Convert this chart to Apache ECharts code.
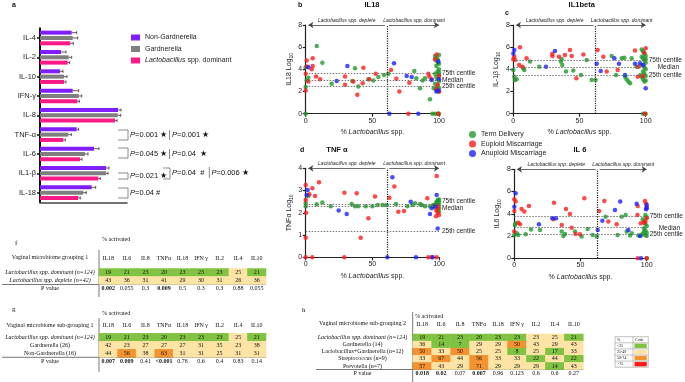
<!DOCTYPE html>
<html>
<head>
<meta charset="utf-8">
<title>Cytokines and vaginal microbiome</title>
<script src="https://cdn.jsdelivr.net/npm/echarts@6.0.0/dist/echarts.min.js"></script>
<style>
  html, body { margin: 0; padding: 0; background: #fff; }
  #main { width: 685px; height: 382px; }
</style>
</head>
<body>
<div id="main"></div>
<script>
// ---------- panel a : cytokine bars (bottom to top) ----------
var cytokines = ['IL-18', 'IL1-β', 'IL-6', 'TNF-α', 'IL-8', 'IFN-γ', 'IL-10', 'IL-2', 'IL-4'];
var nonGard   = [51.7, 66, 54, 36.7, 78, 32.7, 20, 21, 31.7];
var gard      = [43.3, 66, 45, 28.3, 77.7, 38.7, 24, 28.7, 32.7];
var lactoDom  = [38.3, 58.3, 40, 23.3, 75, 37.3, 24, 27.7, 30.3];
var nonGardErr = [4, 3, 5, 2, 3, 6, 3, 5, 5];
var gardErr    = [3, 2, 3, 3, 3, 3, 3, 3, 5];
var lactoErr   = [2, 2, 2, 2, 2, 2, 2, 2, 3];

// ---------- panels b-e : scatter, [% Lactobacillus, log10 level] ----------
var il18Term = [[0,0],[0,4.2],[0.75,3.0],[0,2.4],[2,3.25],[8.3,6.1],[12.5,4.6],[19.5,2.7],[37,4.1],[35,2.95],[39.5,2.45],[47,3.1],[50.75,3.0],[54.5,3.3],[58.75,3.5],[62,3.6],[81.5,3.85],[83,3.2],[85.75,2.3],[87.75,3.0],[89.5,3.2],[93.25,1.3],[97.5,4.85],[97,5.2],[98,5.0],[99,4.9],[100,5.3],[99,4.6],[98,4.3],[100,4.0],[99,3.8],[97,3.6],[100,3.5],[98,3.3],[99,3.1],[100,2.9],[97,2.7],[99,2.5],[100,2.3],[98,2.2],[99,2.1],[100,2.0],[96,2.3],[100,3.7],[100,4.5],[99,0],[97,0],[95,0],[100,0]];
var il18Euploid = [[0.75,4.8],[0.75,4.25],[0,3.6],[0,2.1],[2,2.9],[4.5,4.0],[5.25,5.0],[5.25,4.3],[7.75,3.35],[10.75,3.1],[29.5,3.35],[29.5,2.6],[35.75,2.9],[38.75,1.7],[43.25,4.15],[42.75,2.75],[47.75,3.1],[52.5,3.6],[64,3.95],[68,3.15],[70.25,2.0],[77.75,2.8],[92,3.6],[92.75,3.35],[94.5,3.1],[98.25,5.35],[97,4.9],[100,3.4],[99,2.6],[98,2.2],[100,2.0],[77,0],[99.5,0]];
var il18Aneuploid = [[2,4.2],[23.25,2.95],[31.25,4.3],[66.25,4.55],[75.75,3.4],[79.5,3.3],[94.5,3.05],[99.5,4.7],[99.5,2.1],[98,2.0],[100,3.1],[62.75,0],[84.5,0]];
var il18Centiles = [3.64, 3.0, 2.44];

var il1bTerm = [[0,3.94],[0.75,3.34],[1.25,3.04],[2.5,3.1],[7.5,4.1],[8.3,3.94],[12.6,4.7],[19.6,4.24],[36.5,4.93],[36,4.7],[37,4.4],[39.8,3.8],[45.3,3.9],[51.1,3.5],[55.4,4.84],[59.2,3.04],[62.2,3.04],[74.3,5.2],[77.6,3.5],[81.9,5.0],[83.9,5.05],[84.4,3.34],[85.6,3.1],[86.9,2.9],[88.2,2.74],[89.4,5.0],[93.2,4.24],[97,5.14],[97,5.8],[98,5.6],[99,5.4],[100,5.2],[98,5.0],[99,4.8],[100,4.6],[97,4.4],[99,4.2],[100,4.0],[98,3.8],[99,3.6],[100,3.4],[97,3.3],[98,3.1],[100,3.0],[99,2.9],[96,3.5],[100,4.9],[100,0],[98,0]];
var il1bEuploid = [[0.75,5.14],[1.25,4.84],[0,4.9],[5,6.0],[4.5,4.4],[7,4.24],[10,5.0],[29.5,5.4],[29.5,5.2],[34.5,5.14],[39,5.3],[42.8,5.75],[44.1,5.2],[47.6,3.2],[52.9,5.35],[63.7,5.75],[68,5.14],[70.5,3.8],[78.8,3.94],[91.9,5.7],[94.5,4.24],[94,3.34],[100,5.9],[99,5.5],[98,3.4],[99.5,0]];
var il1bAneuploid = [[0.75,5.75],[0,5.44],[24.7,4.24],[31.5,5.65],[63,4.5],[66,3.85],[76.3,5.0],[79.8,4.5],[84.4,3.5],[91.9,4.5],[95.7,4.55],[98.2,4.4],[100,2.3]];
var il1bCentiles = [4.84, 4.15, 3.49];

var tnfTerm = [[0,2.43],[0,2.3],[2,2.76],[8.25,2.38],[12.5,2.46],[18.75,2.3],[34.5,2.4],[37,2.3],[39.5,2.3],[45,2.3],[50,2.3],[54,2.35],[57.75,2.35],[60.75,2.35],[67.75,2.4],[76.25,2.3],[80,2.35],[82,2.43],[85.75,2.4],[87,2.35],[89.5,2.3],[93.25,2.3],[95.75,2.35],[98.25,2.5],[99.5,2.58],[97,2.35],[98,2.45],[99,2.55],[100,2.6],[100,2.5],[99,2.4],[98,2.3],[100,2.2],[97,2.25],[99,2.15],[100,2.35],[96,2.3],[100,2.05]];
var tnfEuploid = [[0,3.25],[0,2.58],[0,0.88],[0.25,2.0],[2.75,2.83],[5,3.1],[7,2.76],[10,3.37],[29,2.9],[38.25,2.88],[41.25,0.88],[47,1.75],[52,2.73],[62.75,2.68],[66.5,3.18],[69.5,2.05],[73.75,2.08],[91.25,2.65],[98.25,3.65],[99,2.3],[98,2.1],[99,2.0],[100,1.9],[97.75,1.85],[99,2.2],[0,0],[5,0],[29,0],[92,0],[94.5,0],[98.25,0]];
var tnfAneuploid = [[0.75,2.8],[1.5,3.03],[24.75,2.1],[30.75,1.95],[65,3.6],[78.75,2.5],[93.25,1.95],[94.5,2.2],[98.25,2.8],[99,1.3],[97,2.3],[61.25,0],[82.75,0],[95.25,0]];
var tnfCentiles = [2.4, 2.31, 1.18];

var il6Term = [[0,2.1],[0.5,3.0],[1,3.14],[1.8,2.25],[3,2.1],[8.6,2.16],[12.6,2.6],[19.4,2.54],[35.8,2.4],[37,2.0],[38.3,2.19],[45.8,2.4],[50.9,1.95],[55.4,2.63],[59.2,2.1],[62.2,1.95],[69,3.74],[78,2.1],[81.1,3.74],[84.1,3.9],[84.9,2.4],[87.4,2.04],[88.7,2.25],[93.7,2.04],[97,3.5],[98,3.3],[99,3.1],[100,2.9],[98,2.7],[99,2.5],[100,2.3],[97,2.2],[99,2.1],[100,2.0],[98,2.4],[100,3.7],[99,3.9],[96,2.1],[100,0]];
var il6Euploid = [[0,5.3],[1,5.1],[0,4.25],[0,2.4],[3,3.2],[4.3,3.05],[5.5,4.43],[7.6,4.2],[11,4.7],[30,5.0],[29.5,3.5],[35.8,3.0],[39,4.43],[42,3.98],[43.3,2.75],[46.3,2.19],[49.6,2.16],[52.9,5.4],[64,4.25],[68,5.15],[71,3.3],[77.3,3.05],[93,3.9],[93.2,4.7],[95.5,3.14],[98.7,5.15],[99.5,4.9],[100,4.6],[98,3.2],[99,3.3],[100,3.6],[100,0],[93.2,0]];
var il6Aneuploid = [[1,5.84],[0,4.64],[18.6,3.05],[28.7,3.6],[31.5,3.6],[63,2.54],[66.5,3.38],[76,4.34],[80,5.1],[86.1,2.54],[92.4,4.9],[95,2.0],[100,4.5],[99.5,4.4],[100,4.8],[95.7,0]];
var il6Centiles = [3.74, 2.75, 2.19];

var centileNames = ['75th centile', 'Median', '25th centile'];

// ---------- tables f, g, h ----------
var tableCols = ['IL18', 'IL6', 'IL8', 'TNFα', 'IL18', 'IFN γ', 'IL2', 'IL4', 'IL10'];

var fRows = ['Lactobacillus spp. dominant (n=124)', 'Lactobacillus spp. deplete (n=42)'];
var fValues = [[19,21,23,20,23,23,23,25,21], [43,36,31,41,29,30,31,26,36]];
var fCodes  = [[0,0,0,0,0,0,0,1,0], [1,1,1,1,1,1,1,1,1]];
var fPvalues = ['0.002','0.055','0.3','0.009','0.5','0.3','0.3','0.88','0.055'];

var gRows = ['Lactobacillus spp. dominant (n=124)', 'Gardnerella (26)', 'Non-Gardnerella (16)'];
var gValues = [[19,21,23,20,23,23,23,25,21], [42,23,27,27,27,31,35,23,38], [44,56,38,63,31,31,25,31,31]];
var gCodes  = [[0,0,0,0,0,0,0,1,0], [1,1,1,1,1,1,1,1,1], [1,2,1,2,1,1,1,1,1]];
var gPvalues = ['0.007','0.009','0.41','<0.001','0.76','0.6','0.4','0.83','0.14'];

var hRows = ['Lactobacillus spp. dominant (n=124)', 'Gardnerella (14)', 'Lactobacillus+Gardnerella (n=12)', 'Streptococcus (n=9)', 'Prevotella (n=7)'];
var hValues = [[19,21,23,20,23,23,23,25,21], [36,14,7,29,29,50,43,29,43], [50,33,50,25,25,8,25,17,33], [33,67,44,56,33,33,22,44,22], [57,43,29,71,29,29,29,14,43]];
var hCodes  = [[0,0,0,0,0,0,1,1,0], [1,0,0,1,1,2,1,1,1], [2,1,2,1,1,0,1,0,1], [1,2,1,2,1,1,0,1,0], [2,1,1,2,1,1,1,0,1]];
var hPvalues = ['0.018','0.02','0.07','0.007','0.96','0.123','0.6','0.6','0.27'];

var codeLabels = ['<25', '25-49', '50-74', '>75'];
var codeColors = ['#80c342', '#fde3a4', '#f4922f', '#ff1a1a'];

var SANS = 'Liberation Sans', SERIF = 'Liberation Serif';
var PURPLE = '#7f1fff', GREY = '#7f7f7f', PINK = '#fa1a86';
var GREEN = '#1f9a2a', RED = '#ff1a1a', BLUE = '#1a22ff';

var chart = echarts.init(document.getElementById('main'));
var grids = [], xAxes = [], yAxes = [], series = [], graphics = [];

// ---- helpers ----
function txt(text, x, y, o) {
  o = o || {};
  return {
    type: 'text', x: x, y: y, silent: true,
    style: {
      text: text, fill: o.color || '#111',
      font: (o.style || 'normal') + ' ' + (o.weight || 'normal') + ' ' + (o.size || 7) + 'px ' + (o.family || SANS),
      textAlign: o.align || 'left', textVerticalAlign: o.valign || 'middle',
      align: o.align || 'left', verticalAlign: o.valign || 'middle',
      rich: o.rich
    }
  };
}
function ln(points, color, w, dash) {
  return { type: 'polyline', silent: true, shape: { points: points },
           style: { stroke: color, lineWidth: w, fill: null, lineDash: dash || null } };
}

// ---------- panel a ----------
grids.push({ left: 40, top: 28.3, width: 87, height: 174, outerBoundsMode: 'none' });
xAxes.push({ gridIndex: 0, type: 'value', min: 0, max: 87,
  axisLine: { show: true, lineStyle: { color: '#444', width: 1.5 } },
  axisTick: { show: false }, axisLabel: { show: false }, splitLine: { show: false } });
yAxes.push({ gridIndex: 0, type: 'category', data: cytokines,
  axisLine: { lineStyle: { color: '#111', width: 2 } },
  axisTick: { show: true, length: 3, alignWithLabel: true, lineStyle: { color: '#111', width: 1.5 } },
  axisLabel: { fontSize: 7.5, color: '#222', margin: 4, fontFamily: SANS } });

var barGroups = [
  { name: 'Non-Gardnerella', color: PURPLE, vals: nonGard, errs: nonGardErr, ofs: -5.3 },
  { name: 'Gardnerella', color: GREY, vals: gard, errs: gardErr, ofs: 0 },
  { name: 'Lactobacillus spp. dominant', color: PINK, vals: lactoDom, errs: lactoErr, ofs: 5.3 }
];
barGroups.forEach(function (g) {
  series.push({ type: 'bar', name: g.name, xAxisIndex: 0, yAxisIndex: 0, data: g.vals,
    barWidth: 4, barGap: '33%', itemStyle: { color: g.color }, silent: true });
});
barGroups.forEach(function (g) {
  series.push({ type: 'custom', xAxisIndex: 0, yAxisIndex: 0, silent: true, z: 3,
    data: g.vals.map(function (v, i) { return [v, i, g.errs[i]]; }),
    encode: { x: 0, y: 1 },
    renderItem: function (params, api) {
      var a = api.coord([api.value(0), api.value(1)]);
      var b = api.coord([api.value(0) + api.value(2), api.value(1)]);
      var y = a[1] + g.ofs;
      return { type: 'group', children: [
        { type: 'line', shape: { x1: a[0], y1: y, x2: b[0], y2: y }, style: { stroke: '#333', lineWidth: 0.8 } },
        { type: 'line', shape: { x1: b[0], y1: y - 1.5, x2: b[0], y2: y + 1.5 }, style: { stroke: '#333', lineWidth: 0.8 } }
      ] };
    } });
});

// ---------- panels b-e ----------
var panels = [
  { left: 305.7, top: 25, width: 133.3, height: 88.7, yMax: 8, yInt: 2, yName: 'IL18 Log',
    term: il18Term, eup: il18Euploid, aneu: il18Aneuploid, cent: il18Centiles, div: 61,
    offs: [[0, 0], [0, 0], [0, 0]] },
  { left: 513.3, top: 25, width: 132.4, height: 88.7, yMax: 8, yInt: 2, yName: 'IL-1β Log',
    term: il1bTerm, eup: il1bEuploid, aneu: il1bAneuploid, cent: il1bCentiles, div: 62,
    offs: [[0, 0], [9, 0], [0, 0]] },
  { left: 305.7, top: 168.3, width: 133.3, height: 89, yMax: 4, yInt: 1, yName: 'TNFα Log',
    term: tnfTerm, eup: tnfEuploid, aneu: tnfAneuploid, cent: tnfCentiles, div: 61.25,
    offs: [[0, -3], [0, 2], [0, 0]] },
  { left: 514.3, top: 169.3, width: 132.4, height: 89, yMax: 8, yInt: 2, yName: 'IL6 Log',
    term: il6Term, eup: il6Euploid, aneu: il6Aneuploid, cent: il6Centiles, div: 63,
    offs: [[0, 0], [9, 0], [0, 0]] }
];

panels.forEach(function (p) {
  var gi = grids.length;
  grids.push({ left: p.left, top: p.top, width: p.width, height: p.height, outerBoundsMode: 'none' });
  xAxes.push({ gridIndex: gi, type: 'value', min: 0, max: 100, interval: 50,
    name: '{n|% }{i|Lactobacillus}{n| spp.}', nameLocation: 'middle', nameGap: 15,
    nameTextStyle: { rich: { n: { fontSize: 7, color: '#222', fontFamily: SANS },
                             i: { fontSize: 7, color: '#222', fontStyle: 'italic', fontFamily: SANS } } },
    axisLine: { lineStyle: { color: '#222', width: 1.2 } },
    axisTick: { length: 3, lineStyle: { color: '#222', width: 1.2 } },
    axisLabel: { fontSize: 7, color: '#222', margin: 3.5, fontFamily: SANS },
    splitLine: { show: false } });
  yAxes.push({ gridIndex: gi, type: 'value', min: 0, max: p.yMax, interval: p.yInt,
    name: '{n|' + p.yName + '}{s|10}', nameLocation: 'middle', nameGap: 12, nameRotate: 90,
    nameTextStyle: { rich: { n: { fontSize: 7, color: '#222', fontFamily: SANS, lineHeight: 10 },
                             s: { fontSize: 5, color: '#222', fontFamily: SANS, verticalAlign: 'bottom', lineHeight: 10 } } },
    axisLine: { show: true, lineStyle: { color: '#222', width: 1.2 } },
    axisTick: { show: true, length: 3, lineStyle: { color: '#222', width: 1.2 } },
    axisLabel: { fontSize: 7, color: '#222', margin: 3.5, fontFamily: SANS },
    splitLine: { show: false } });

  var refLines = [{ xAxis: p.div, label: { show: false }, lineStyle: { type: [1.2, 1.2], color: '#222', width: 1.2 } }];
  p.cent.forEach(function (c, k) {
    refLines.push({ yAxis: c, label: { show: true, position: 'end', distance: 3, formatter: centileNames[k], offset: p.offs[k] } });
  });

  series.push({ type: 'scatter', name: 'Term Delivery', xAxisIndex: gi, yAxisIndex: gi, data: p.term,
    symbolSize: 4.5, itemStyle: { color: GREEN }, clip: false, silent: true,
    markLine: { silent: true, animation: false, symbol: 'none',
      lineStyle: { type: [1.5, 1.5], color: '#666', width: 0.9 },
      label: { fontSize: 6.5, color: '#222', fontFamily: SANS },
      data: refLines } });
  series.push({ type: 'scatter', name: 'Euploid Miscarriage', xAxisIndex: gi, yAxisIndex: gi, data: p.eup,
    symbolSize: 4.5, itemStyle: { color: RED }, clip: false, silent: true,
    markLine: { silent: true, animation: false, symbol: ['none', 'arrow'], symbolSize: 5,
      itemStyle: { color: '#333' },
      lineStyle: { type: 'solid', color: '#444', width: 0.8 },
      label: { show: true, position: 'insideMiddleTop', distance: 2, fontSize: 5, fontStyle: 'italic', color: '#222', fontFamily: SANS },
      data: [
        [{ coord: [2, p.yMax], symbol: 'arrow', label: { formatter: 'Lactobacillus spp. deplete' } },
         { coord: [p.div - 1.5, p.yMax], symbol: 'none' }],
        [{ coord: [p.div + 1.5, p.yMax], label: { formatter: 'Lactobacillus spp. dominant' } },
         { coord: [100, p.yMax] }]
      ] } });
  series.push({ type: 'scatter', name: 'Anuploid Miscarriage', xAxisIndex: gi, yAxisIndex: gi, data: p.aneu,
    symbolSize: 4.5, itemStyle: { color: BLUE }, clip: false, silent: true });
});

// ---------- tables ----------
function addTable(t) {
  var gi = grids.length;
  var nr = t.rows.length;
  grids.push({ left: t.left, top: t.top, width: t.width, height: t.rowH * (nr + 1), outerBoundsMode: 'none' });
  xAxes.push({ gridIndex: gi, type: 'category', position: 'top', data: tableCols,
    axisLine: { show: false }, axisTick: { show: false }, splitLine: { show: false },
    axisLabel: { interval: 0, fontFamily: SERIF, fontSize: 6, color: '#111', margin: t.headMargin } });
  yAxes.push({ gridIndex: gi, type: 'category', inverse: true, data: t.rows.concat(['P value']),
    axisLine: { show: false }, axisTick: { show: false }, splitLine: { show: false },
    axisLabel: { interval: 0, align: 'center', margin: t.left - t.labelX,
      formatter: function (v) { return /^Lactobacillus spp\./.test(v) ? '{i|' + v + '}' : '{n|' + v + '}'; },
      rich: { i: { fontFamily: SERIF, fontSize: 6, fontStyle: 'italic', color: '#111' },
              n: { fontFamily: SERIF, fontSize: 6, color: '#111' } } } });
  var cells = [];
  t.values.forEach(function (row, r) {
    row.forEach(function (v, c) {
      cells.push({ value: [c, r, v], txt: String(v), itemStyle: { color: codeColors[t.codes[r][c]] } });
    });
  });
  t.pvalues.forEach(function (pv, c) {
    var sig = pv.charAt(0) === '<' || parseFloat(pv) < 0.05;
    cells.push({ value: [c, nr, 0], txt: pv, itemStyle: { color: 'rgba(255,255,255,0)' },
                 label: { fontWeight: sig ? 'bold' : 'normal' } });
  });
  series.push({ type: 'heatmap', xAxisIndex: gi, yAxisIndex: gi, data: cells, silent: true,
    label: { show: true, fontFamily: SERIF, fontSize: 6, color: '#111', formatter: function (q) { return q.data.txt; } },
    itemStyle: { borderWidth: 0 }, emphasis: { disabled: true } });
}

addTable({ left: 99, top: 268.5, width: 167, rowH: 8, rows: fRows, values: fValues, codes: fCodes,
           pvalues: fPvalues, headMargin: 7, labelX: 50 });
addTable({ left: 99, top: 333.3, width: 167, rowH: 8, rows: gRows, values: gValues, codes: gCodes,
           pvalues: gPvalues, headMargin: 5, labelX: 50 });
addTable({ left: 412.7, top: 334, width: 170.6, rowH: 7.1, rows: hRows, values: hValues, codes: hCodes,
           pvalues: hPvalues, headMargin: 7, labelX: 362.5 });

// ---------- annotation graphics ----------
var pRich = { i: { fontStyle: 'italic', fontSize: 7.5, fontFamily: SANS, fill: '#111' } };
var G = '#8a8a8a';
graphics.push(
  txt('a', 12, 5, { weight: 'bold', size: 7 }),
  txt('b', 298, 5, { weight: 'bold', size: 7 }),
  txt('c', 505, 13, { weight: 'bold', size: 7 }),
  txt('d', 300, 150, { weight: 'bold', size: 7 }),
  txt('IL18', 372, 5, { weight: 'bold', size: 7.5, align: 'center' }),
  txt('IL1beta', 581.7, 5, { weight: 'bold', size: 7.5, align: 'center' }),
  txt('TNF α', 337, 150, { weight: 'bold', size: 7.5, align: 'center' }),
  txt('IL 6', 580, 150, { weight: 'bold', size: 7.5, align: 'center' }),

  ln([[118, 130], [128, 130], [128, 140], [118, 140]], G, 1),
  txt('{i|P}=0.001 ★', 130, 135, { size: 7.5, rich: pRich }),
  ln([[169.5, 130], [169.5, 140]], G, 1),
  txt('{i|P}=0.001 ★', 172, 135, { size: 7.5, rich: pRich }),
  ln([[118, 148], [128, 148], [128, 158], [118, 158]], G, 1),
  txt('{i|P}=0.045 ★', 130, 154, { size: 7.5, rich: pRich }),
  ln([[169.5, 149], [169.5, 159]], G, 1),
  txt('{i|P}=0.04  ★', 172, 154, { size: 7.5, rich: pRich }),
  ln([[118, 173], [128, 173], [128, 179], [118, 179]], G, 1),
  txt('{i|P}=0.021 ★', 130, 176, { size: 7.5, rich: pRich }),
  ln([[163, 168], [170, 168], [170, 179], [163, 179]], G, 1),
  txt('{i|P}=0.04  #', 172, 173, { size: 7.5, rich: pRich }),
  ln([[209.3, 167], [209.3, 178]], G, 1),
  txt('{i|P}=0.006 ★', 211.5, 173, { size: 7.5, rich: pRich }),
  ln([[118, 188], [128, 188], [128, 198], [118, 198]], G, 1),
  txt('{i|P}=0.04 #', 130, 193, { size: 7.5, rich: pRich }),

  // table f
  txt('f', 15, 243, { size: 7, family: SERIF }),
  txt('% activated', 102, 239.5, { size: 6, family: SERIF }),
  txt('Vaginal microbiome grouping 1', 50, 257.7, { size: 6, family: SERIF, align: 'center' }),
  ln([[99, 250], [99, 297]], '#555', 0.8),
  ln([[2, 284.5], [266, 284.5]], '#555', 0.8),
  // table g
  txt('g', 12, 309, { size: 7, family: SERIF }),
  txt('% activated', 102, 313.5, { size: 6, family: SERIF }),
  txt('Vaginal microbiome sub-grouping 1', 50, 325, { size: 6, family: SERIF, align: 'center' }),
  ln([[99, 318], [99, 372]], '#555', 0.8),
  ln([[2, 357.3], [266, 357.3]], '#555', 0.8),
  // table h
  txt('h', 302, 310, { size: 7, family: SERIF }),
  txt('% activated', 415, 316.7, { size: 6, family: SERIF }),
  txt('Vaginal microbiome sub-grouping 2', 362.5, 323.3, { size: 6, family: SERIF, align: 'center' }),
  ln([[412.7, 312], [412.7, 382]], '#555', 0.8),
  ln([[316, 369.5], [583.3, 369.5]], '#555', 0.8)
);

// colour code key
var kx = 615, ky = 336.7, kw = 33.3, kh = 6.1, kd = 633;
graphics.push({ type: 'rect', silent: true, shape: { x: kx, y: ky, width: kw, height: kh * 5 },
                style: { fill: '#fff', stroke: '#999', lineWidth: 0.6 } });
graphics.push(ln([[kd, ky], [kd, ky + kh * 5]], '#999', 0.6));
graphics.push(txt('%', kx + 2, ky + kh / 2, { size: 4, family: SERIF }));
graphics.push(txt('Code', kd + 2, ky + kh / 2, { size: 4, family: SERIF }));
codeLabels.forEach(function (lab, k) {
  var yy = ky + kh * (k + 1);
  graphics.push(ln([[kx, yy], [kx + kw, yy]], '#999', 0.6));
  graphics.push(txt(lab, kx + 2, yy + kh / 2, { size: 4, family: SERIF }));
  graphics.push({ type: 'rect', silent: true, shape: { x: kd + 1.5, y: yy + 0.8, width: kx + kw - kd - 3, height: kh - 1.6 },
                  style: { fill: codeColors[k] } });
});

chart.setOption({
  animation: false,
  textStyle: { fontFamily: SANS },
  grid: grids,
  xAxis: xAxes,
  yAxis: yAxes,
  legend: [
    { data: ['Non-Gardnerella', 'Gardnerella', 'Lactobacillus spp. dominant'],
      left: 126, top: 29, orient: 'vertical', itemWidth: 9, itemHeight: 6, itemGap: 4.5,
      selectedMode: false, icon: 'rect',
      formatter: function (n) { return n.indexOf('Lactobacillus') === 0 ? '{i|Lactobacillus}{n| spp. dominant}' : '{n|' + n + '}'; },
      textStyle: { rich: { i: { fontStyle: 'italic', fontSize: 7, fontFamily: SANS, color: '#222' },
                           n: { fontSize: 7, fontFamily: SANS, color: '#222' } } } },
    { data: ['Term Delivery', 'Euploid Miscarriage', 'Anuploid Miscarriage'],
      left: 464, top: 126, orient: 'vertical', itemWidth: 7, itemHeight: 7, itemGap: 2.5,
      selectedMode: false, icon: 'circle',
      textStyle: { fontSize: 7, fontFamily: SANS, color: '#222' } }
  ],
  graphic: { elements: graphics },
  series: series
});
</script>
</body>
</html>
